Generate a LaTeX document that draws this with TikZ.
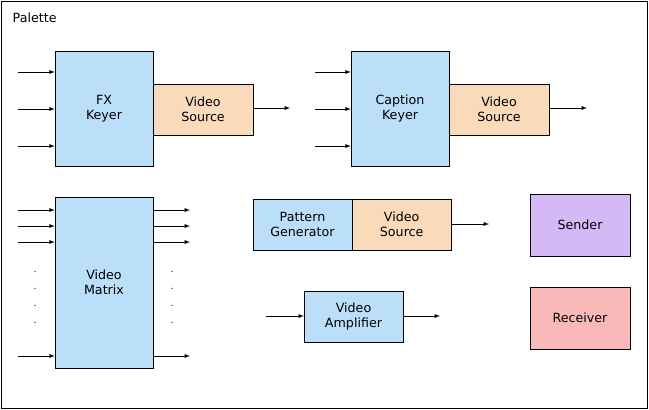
\documentclass[tikz,border=0pt]{standalone}
\usepackage{fontspec}
\setmainfont{DejaVu Sans}
\usetikzlibrary{positioning}
\definecolor{blk}{HTML}{BBDEF9}
\definecolor{src}{HTML}{F9DABB}
\definecolor{snd}{HTML}{D5B9F6}
\definecolor{rcv}{HTML}{F9B9B9}
\tikzset{
    box/.style={draw, fill=blk, align=center, font=\fontsize{9.5}{11.5}\selectfont},
    sig/.style={->, >=latex}
}
\begin{document}
\begin{tikzpicture}[x=0.75pt, y=-0.75pt]
    \useasboundingbox (0,0) rectangle (649,410);
    \draw (1,1) rectangle (647,408);
    \node[anchor=west, font=\fontsize{9.5}{11.5}\selectfont] (title) at (8,18) {Palette};

    % keyers
    \node[box, minimum width=73.5pt, minimum height=86pt] (fx) at (104,108.5) {FX\\Keyer};
    \node[box, fill=src, minimum width=75pt, minimum height=38pt] (fxsrc) at (203,109.5) {Video\\Source};
    \node[box, minimum width=73.5pt, minimum height=86pt] (cap) at (400,108.5) {Caption\\Keyer};
    \node[box, fill=src, minimum width=75pt, minimum height=38pt] (capsrc) at (499,109.5) {Video\\Source};
    \coordinate (fxout) at (290,108);
    \coordinate (capout) at (587,108);
    \draw[sig] (fxsrc.east |- fxout) -- (fxout);
    \draw[sig] (capsrc.east |- capout) -- (capout);
    \foreach \y in {72,109,146} {
        \coordinate (fxin\y) at (18,\y);
        \coordinate (capin\y) at (315,\y);
        \draw[sig] (fxin\y) -- (fxin\y -| fx.west);
        \draw[sig] (capin\y) -- (capin\y -| cap.west);
    }

    % matrix
    \node[box, minimum width=73.5pt, minimum height=128pt] (mtx) at (104,282.5) {Video\\Matrix};
    \foreach \y in {210,226,242,356} {
        \coordinate (min\y) at (18,\y);
        \coordinate (mout\y) at (190,\y);
        \draw[sig] (min\y) -- (min\y -| mtx.west);
        \draw[sig] (mout\y -| mtx.east) -- (mout\y);
    }
    \foreach \y in {272,289,306,323} {
        \node[font=\scriptsize] (ld\y) at (35,\y) {.};
        \node[font=\scriptsize] (rd\y) at (172,\y) {.};
    }

    % pattern generator
    \node[box, minimum width=74pt, minimum height=38pt] (pat) at (302.5,224.5) {Pattern\\Generator};
    \node[box, fill=src, minimum width=74pt, minimum height=38pt, right=0pt of pat] (patsrc) {Video\\Source};
    \coordinate (patout) at (489,224);
    \draw[sig] (patsrc.east |- patout) -- (patout);

    % amplifier
    \node[box, minimum width=74pt, minimum height=38pt] (amp) at (353.5,316.5) {Video\\Amplifier};
    \coordinate (ampin) at (266,316);
    \coordinate (ampout) at (440,316);
    \draw[sig] (ampin) -- (ampin -| amp.west);
    \draw[sig] (amp.east |- ampout) -- (ampout);

    % sender / receiver
    \node[box, fill=snd, minimum width=75pt, minimum height=46.5pt] (snd) at (580,225) {Sender};
    \node[box, fill=rcv, minimum width=75pt, minimum height=46.5pt] (rcv) at (580,318) {Receiver};
\end{tikzpicture}
\end{document}
